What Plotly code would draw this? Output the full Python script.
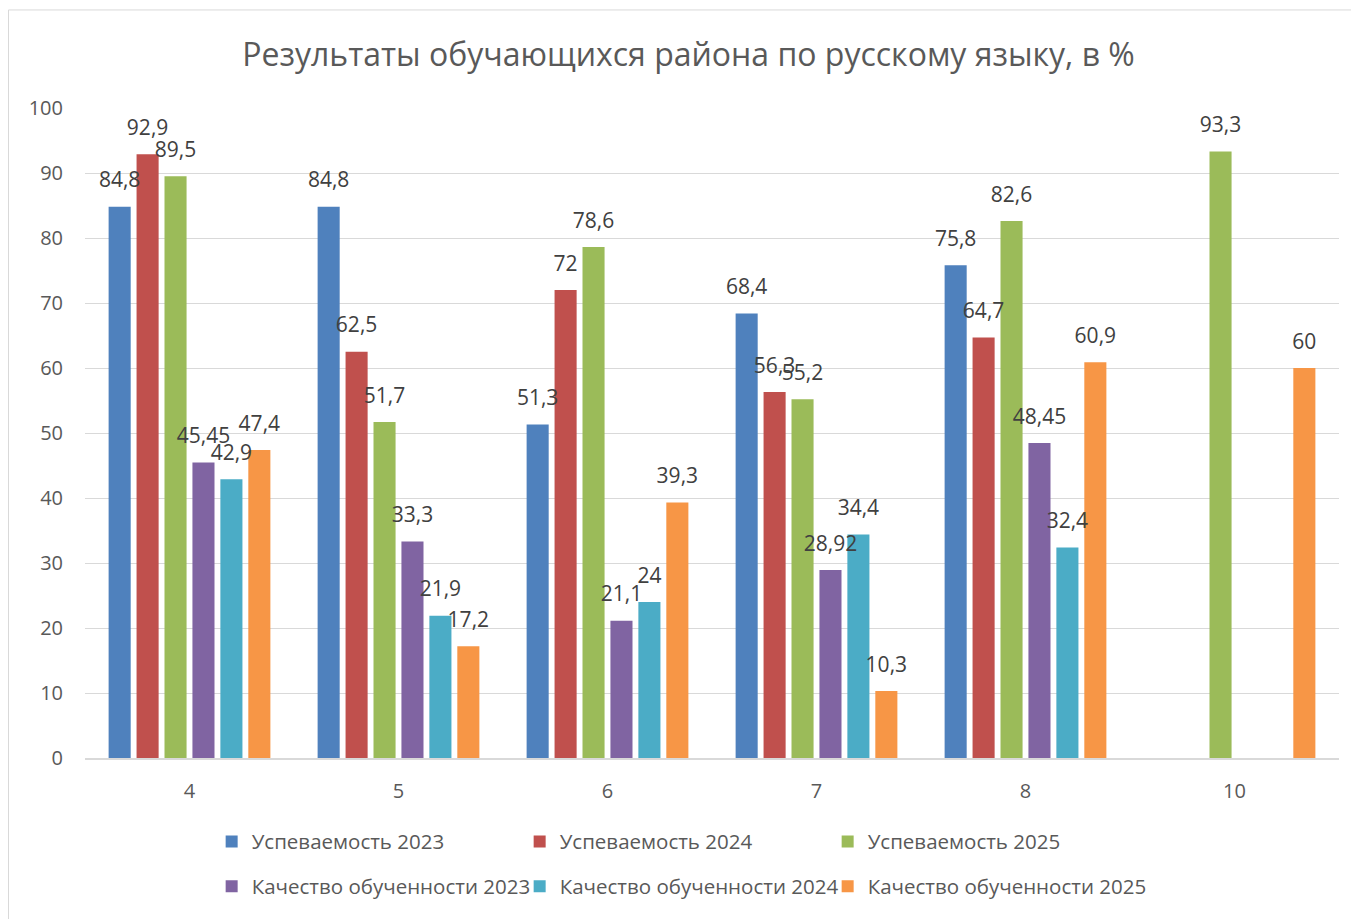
import plotly.graph_objects as go

categories = ["4", "5", "6", "7", "8", "10"]
series_names = [
    "Успеваемость 2023", "Успеваемость 2024", "Успеваемость 2025",
    "Качество обученности 2023", "Качество обученности 2024", "Качество обученности 2025",
]
usp_2023 = [84.8, 84.8, 51.3, 68.4, 75.8, None]
usp_2024 = [92.9, 62.5, 72, 56.3, 64.7, None]
usp_2025 = [89.5, 51.7, 78.6, 55.2, 82.6, 93.3]
kach_2023 = [45.45, 33.3, 21.1, 28.92, 48.45, None]
kach_2024 = [42.9, 21.9, 24, 34.4, 32.4, None]
kach_2025 = [47.4, 17.2, 39.3, 10.3, 60.9, 60]
colors = ["#4F81BD", "#C0504D", "#9BBB59", "#8064A2", "#4BACC6", "#F79646"]
legend_ids = ["legend", "legend", "legend", "legend2", "legend3", "legend4"]

all_series = [usp_2023, usp_2024, usp_2025, kach_2023, kach_2024, kach_2025]

FONT = "Open Sans"

def fmt(v):
    if v is None:
        return ""
    return ("%g" % v).replace(".", ",")

fig = go.Figure()
for i, (name, vals) in enumerate(zip(series_names, all_series)):
    fig.add_trace(go.Bar(
        x=categories, y=vals, name=name,
        marker=dict(color=colors[i], line=dict(width=0)),
        legend=legend_ids[i],
        xaxis="x", yaxis="y",
    ))
# data labels: transparent bars on an overlaid axis, lifted slightly
for i, (name, vals) in enumerate(zip(series_names, all_series)):
    fig.add_trace(go.Bar(
        x=categories, y=vals, name=name, showlegend=False,
        marker=dict(color="rgba(0,0,0,0)", line=dict(width=0)),
        text=[fmt(v) for v in vals], textposition="outside",
        textangle=0, constraintext="none", cliponaxis=False,
        textfont=dict(family=FONT, size=21, color="#404040"),
        xaxis="x", yaxis="y2", hoverinfo="skip",
    ))

W, H = 1351, 911
L, T = 77, 100
PW, PH = 1254, 653
LX = 0.101
COLW = 308 / PW
ROW1 = (753 - 837) / PH
ROW2 = (753 - 882) / PH

legend_common = dict(orientation="h", xanchor="left", yanchor="middle",
                     font=dict(family=FONT, size=20.5, color="#595959"),
                     bgcolor="rgba(0,0,0,0)")

fig.update_layout(
    width=W, height=H,
    margin=dict(l=L, r=W - L - PW, t=T, b=H - T - PH),
    paper_bgcolor="white", plot_bgcolor="white",
    barmode="group", bargap=0.198, bargroupgap=0.21,
    title=dict(text="Результаты обучающихся района по русскому языку, в %",
               x=(680.5) / W, xanchor="center", y=1 - 47 / H, yanchor="middle",
               font=dict(family=FONT, size=32, color="#595959")),
    font=dict(family=FONT, color="#595959"),
    xaxis=dict(type="category", showgrid=False, showline=True, linecolor="#D9D9D9",
               linewidth=1.5, ticks="", tickfont=dict(size=20, color="#595959"),
               ticklabelstandoff=14, zeroline=False),
    yaxis=dict(range=[0, 100], dtick=10, showgrid=True, gridcolor="#D9D9D9",
               gridwidth=1.4, showline=False, zeroline=False, ticks="",
               tickfont=dict(size=20, color="#595959"), ticklabelstandoff=21),
    yaxis2=dict(range=[-1.6, 98.4], overlaying="y", visible=False),
    legend=dict(x=LX, y=ROW1, entrywidth=263, entrywidthmode="pixels", **legend_common),
    legend2=dict(x=LX, y=ROW2, **legend_common),
    legend3=dict(x=LX + COLW, y=ROW2, **legend_common),
    legend4=dict(x=LX + 2 * COLW, y=ROW2, **legend_common),
    shapes=[dict(type="rect", xref="paper", yref="paper",
                 x0=(0.5 - L) / PW, x1=(1370 - L) / PW,
                 y0=(753 - 930) / PH, y1=(753 - 1.5) / PH,
                 line=dict(color="#D9D9D9", width=1), fillcolor="rgba(0,0,0,0)", layer="below")],
)

fig.write_html("out.html")
